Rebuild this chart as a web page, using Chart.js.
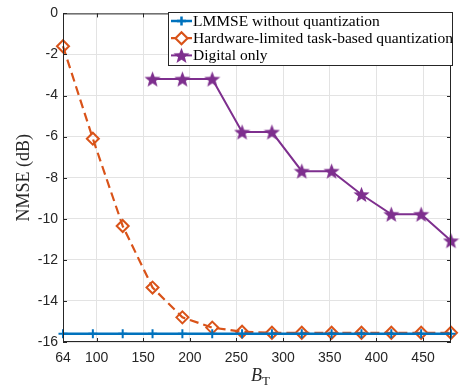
<!DOCTYPE html>
<html>
<head>
<meta charset="utf-8">
<script src="https://cdn.jsdelivr.net/npm/chart.js@4.4.0/dist/chart.umd.min.js"></script>
<style>
  html, body { margin: 0; padding: 0; background: #fff; }
  #wrap { width: 461px; height: 388px; }
</style>
</head>
<body>
<div id="wrap"><canvas id="chart"></canvas></div>
<script>
// Data
const bitsT = [64, 96, 128, 160, 192, 224, 256, 288, 320, 352, 384, 416, 448, 480];
const lmmseNoQuant = [-15.6, -15.6, -15.6, -15.6, -15.6, -15.6, -15.6, -15.6, -15.6, -15.6, -15.6, -15.6, -15.6, -15.6];
const hwTaskBased = [-1.6, -6.1, -10.35, -13.35, -14.8, -15.3, -15.5, -15.55, -15.55, -15.55, -15.55, -15.55, -15.55, -15.55];
const digitalBits = [160, 192, 224, 256, 288, 320, 352, 384, 416, 448, 480];
const digitalOnly = [-3.2, -3.2, -3.2, -5.78, -5.78, -7.68, -7.68, -8.82, -9.78, -9.78, -11.07];
const xTickValues = [64, 100, 150, 200, 250, 300, 350, 400, 450];
const yTickValues = [0, -2, -4, -6, -8, -10, -12, -14, -16];
const seriesNames = [
  "LMMSE without quantization",
  "Hardware-limited task-based quantization",
  "Digital only",
];

const BLUE = "#0072BD";
const ORANGE = "#D95319";
const PURPLE = "#7E2F8E";
const AXIS = "#262626";
const GRID = "#e3e3e3";

// filled five-point star used as marker
function makeStar(size, color) {
  const c = document.createElement("canvas");
  c.width = size;
  c.height = size;
  const ctx = c.getContext("2d");
  const cx = size / 2, cy = size / 2 + 0.7;
  const R = size / 2, r = R * 0.42;
  ctx.beginPath();
  for (let i = 0; i < 10; i++) {
    const rad = i % 2 === 0 ? R : r;
    const a = -Math.PI / 2 + (i * Math.PI) / 5;
    const px = cx + rad * Math.cos(a);
    const py = cy + rad * Math.sin(a);
    if (i === 0) ctx.moveTo(px, py);
    else ctx.lineTo(px, py);
  }
  ctx.closePath();
  ctx.fillStyle = color;
  ctx.fill();
  return c;
}
const starImg = makeStar(17, PURPLE);

const toXY = (xs, ys) => xs.map((x, i) => ({ x: x, y: ys[i] }));

const legendStyles = [
  { color: BLUE, fill: BLUE, dash: [], width: 2.5, pointStyle: "cross", radius: 4.5, bw: 2 },
  { color: ORANGE, fill: "#fff", dash: [9, 5], width: 2.2, pointStyle: "rectRot", radius: 6, bw: 2 },
  { color: PURPLE, fill: PURPLE, dash: [], width: 2, pointStyle: starImg, radius: 8, bw: 1 },
];

// box, inward ticks, x title and legend
const framePlugin = {
  id: "frame",
  afterDraw(chart) {
    const { ctx, chartArea: a, scales } = chart;
    ctx.save();
    ctx.strokeStyle = AXIS;
    ctx.lineWidth = 1;
    ctx.strokeRect(a.left + 0.5, a.top + 0.5, a.right - a.left - 1, a.bottom - a.top - 1);
    ctx.beginPath();
    xTickValues.forEach((v) => {
      const px = Math.round(scales.x.getPixelForValue(v)) + 0.5;
      ctx.moveTo(px, a.bottom);
      ctx.lineTo(px, a.bottom - 4);
      ctx.moveTo(px, a.top);
      ctx.lineTo(px, a.top + 4);
    });
    yTickValues.forEach((v) => {
      const py = Math.round(scales.y.getPixelForValue(v)) + 0.5;
      ctx.moveTo(a.left, py);
      ctx.lineTo(a.left + 4, py);
      ctx.moveTo(a.right, py);
      ctx.lineTo(a.right - 4, py);
    });
    ctx.stroke();

    // x title: B_T
    const midX = (a.left + a.right) / 2;
    ctx.fillStyle = AXIS;
    ctx.textBaseline = "alphabetic";
    ctx.font = "italic 18px 'Liberation Serif'";
    ctx.textAlign = "right";
    ctx.fillText("B", midX + 5, 381);
    ctx.font = "13px 'Liberation Serif'";
    ctx.textAlign = "left";
    ctx.fillText("T", midX + 5, 385);

    // legend box
    const lx = 168, ly = 12, lw = 284, lh = 53;
    ctx.fillStyle = "#fff";
    ctx.fillRect(lx, ly, lw, lh);
    ctx.strokeStyle = AXIS;
    ctx.strokeRect(lx + 0.5, ly + 0.5, lw, lh);
    ctx.font = "15.5px 'Liberation Serif'";
    ctx.textAlign = "left";
    ctx.textBaseline = "middle";
    seriesNames.forEach((name, i) => {
      const s = legendStyles[i];
      const y = ly + 9 + i * 17.2;
      ctx.strokeStyle = s.color;
      ctx.lineWidth = s.width;
      ctx.setLineDash(s.dash);
      ctx.beginPath();
      ctx.moveTo(lx + 3, y);
      ctx.lineTo(lx + 24, y);
      ctx.stroke();
      ctx.setLineDash([]);
      ctx.fillStyle = s.fill;
      Chart.helpers.drawPoint(ctx, {
        pointStyle: s.pointStyle,
        radius: s.radius,
        borderWidth: s.bw,
        rotation: 0,
      }, lx + 13.5, y);
      ctx.fillStyle = "#000";
      ctx.fillText(name, lx + 25, y + 1);
    });
    ctx.restore();
  },
};

new Chart(document.getElementById("chart"), {
  type: "line",
  data: {
    datasets: [
      {
        label: seriesNames[0],
        data: toXY(bitsT, lmmseNoQuant),
        borderColor: BLUE,
        backgroundColor: BLUE,
        borderWidth: 2.5,
        pointStyle: "cross",
        pointRadius: 4.5,
        pointBorderWidth: 2,
      },
      {
        label: seriesNames[1],
        data: toXY(bitsT, hwTaskBased),
        borderColor: ORANGE,
        backgroundColor: "#fff",
        borderWidth: 2.2,
        borderDash: [9, 5],
        pointStyle: "rectRot",
        pointRadius: 6,
        pointBorderWidth: 2,
        pointBorderColor: ORANGE,
        pointBackgroundColor: "rgba(255,255,255,0)",
      },
      {
        label: seriesNames[2],
        data: toXY(digitalBits, digitalOnly),
        borderColor: PURPLE,
        backgroundColor: PURPLE,
        borderWidth: 2,
        pointStyle: starImg,
        pointRadius: 8,
      },
    ],
  },
  options: {
    responsive: true,
    maintainAspectRatio: false,
    animation: false,
    clip: false,
    layout: { padding: { top: 8, right: 1, left: 0, bottom: 0 } },
    plugins: {
      legend: { display: false },
      tooltip: { enabled: false },
    },
    scales: {
      x: {
        type: "linear",
        min: 64,
        max: 480,
        afterBuildTicks: (scale) => {
          scale.ticks = xTickValues.map((v) => ({ value: v }));
        },
        afterFit: (scale) => {
          scale.height = 46;
        },
        border: { display: false },
        grid: { color: GRID, drawTicks: false },
        ticks: {
          padding: 8,
          color: AXIS,
          maxRotation: 0,
          font: { family: "'Liberation Sans'", size: 14 },
        },
      },
      y: {
        min: -16,
        max: 0,
        afterBuildTicks: (scale) => {
          scale.ticks = yTickValues.map((v) => ({ value: v }));
        },
        afterFit: (scale) => {
          scale.width = 63;
        },
        border: { display: false },
        grid: { color: GRID, drawTicks: false },
        ticks: {
          padding: 5,
          color: AXIS,
          font: { family: "'Liberation Sans'", size: 14 },
        },
        title: {
          display: true,
          text: "NMSE (dB)",
          color: AXIS,
          padding: { top: 13, bottom: 0 },
          font: { family: "'Liberation Serif'", size: 18 },
        },
      },
    },
  },
  plugins: [framePlugin],
});
</script>
</body>
</html>
